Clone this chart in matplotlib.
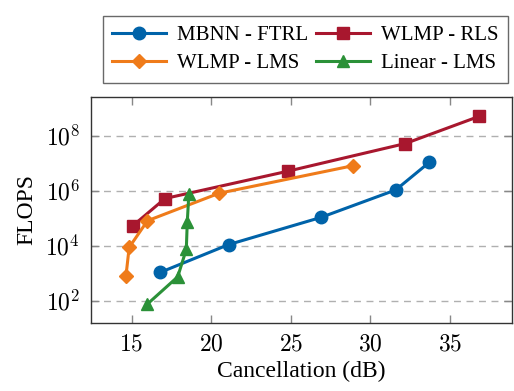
import numpy as np
import matplotlib
matplotlib.use("Agg")
import matplotlib.pyplot as plt
from matplotlib.ticker import FixedLocator, NullLocator, FuncFormatter

plt.rcParams['font.family'] = 'serif'
plt.rcParams['font.serif'] = ['Liberation Serif', 'DejaVu Serif']
plt.rcParams['mathtext.fontset'] = 'cm'

# data
mbnn_x = [16.8, 21.1, 26.9, 31.6, 33.7]
mbnn_y = [1.07e3, 1.1e4, 1.07e5, 1.07e6, 1.07e7]

rls_x = [15.06, 17.1, 24.8, 32.2, 36.85]
rls_y = [5.2e4, 5.2e5, 5.1e6, 5.2e7, 5.1e8]

lms_x = [14.65, 14.85, 16.0, 20.5, 28.9]
lms_y = [8.1e2, 8.7e3, 8.1e4, 8.1e5, 8.1e6]

lin_x = [15.98, 17.9, 18.44, 18.5, 18.6]
lin_y = [74, 7.4e2, 7.4e3, 7.2e4, 7.6e5]

x_ticks = [15, 20, 25, 30, 35]
y_ticks = [1e2, 1e4, 1e6, 1e8]

c_blue = '#0063a9'
c_red = '#a8172e'
c_orange = '#ef7b1a'
c_green = '#2b9138'

fig = plt.figure(figsize=(5.14, 3.91), dpi=100)
ax = fig.add_axes([0.177, 0.174, 0.819, 0.578])

lw = 2.2
h1, = ax.plot(mbnn_x, mbnn_y, color=c_blue, marker='o', ms=9, lw=lw, label='MBNN - FTRL')
h2, = ax.plot(rls_x, rls_y, color=c_red, marker='s', ms=9, lw=lw, label='WLMP - RLS')
h3, = ax.plot(lms_x, lms_y, color=c_orange, marker='D', ms=7, lw=lw, label='WLMP - LMS')
h4, = ax.plot(lin_x, lin_y, color=c_green, marker='^', ms=9, lw=lw, label='Linear - LMS')

ax.set_yscale('log')
ax.set_xlim(12.45, 38.9)
ax.set_ylim(10**1.19, 10**9.41)
ax.xaxis.set_major_locator(FixedLocator(x_ticks))
ax.xaxis.set_major_formatter(FuncFormatter(lambda v, p: r'$%d$' % v))
ax.yaxis.set_major_locator(FixedLocator(y_ticks))
ax.yaxis.set_major_formatter(FuncFormatter(lambda v, p: r'$10^{%d}$' % round(np.log10(v))))
ax.yaxis.set_minor_locator(NullLocator())
ax.grid(axis='y', color='#b0b0b0', ls=(0, (5, 4)), lw=1.0)
ax.set_axisbelow(True)
ax.tick_params(direction='in', length=6, width=1.0, color='#888888',
               top=True, right=True, labelsize=17, pad=8)
for s in ax.spines.values():
    s.set_color('#333333')
    s.set_linewidth(1.0)

ax.set_xlabel('Cancellation (dB)', fontsize=17, labelpad=4)
ax.set_ylabel('FLOPS', fontsize=17, labelpad=6)

leg = fig.legend([h1, h3, h2, h4], [h1.get_label(), h3.get_label(), h2.get_label(), h4.get_label()],
                 ncol=2, loc='upper center', bbox_to_anchor=(0.594, 0.985),
                 fontsize=15, frameon=True, fancybox=False, edgecolor='#444444',
                 handlelength=2.6, columnspacing=0.4, handletextpad=0.5,
                 borderpad=0.45, labelspacing=0.4)
leg.get_frame().set_linewidth(1.0)

fig.savefig('out.png', dpi=100)
